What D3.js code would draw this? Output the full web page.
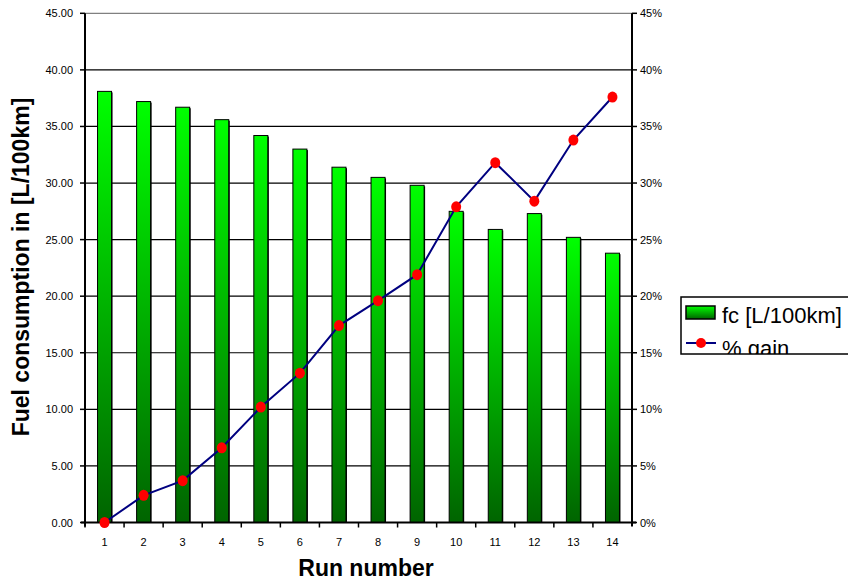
<!DOCTYPE html>
<html><head><meta charset="utf-8">
<script src="https://cdn.jsdelivr.net/npm/d3@7"></script>
<style>body{margin:0;background:#fff}svg{display:block;font-family:Arial,"Liberation Sans",sans-serif}</style>
</head><body><svg id="c" width="848" height="582"></svg>
<script>
const runs = [1,2,3,4,5,6,7,8,9,10,11,12,13,14];
const fc = [38.1,37.2,36.7,35.6,34.2,33.0,31.4,30.5,29.8,27.5,25.9,27.3,25.2,23.8];
const gain = [0.0,2.4,3.7,6.6,10.2,13.2,17.4,19.6,21.9,27.9,31.8,28.4,33.8,37.6];
const leftTicks = [0,5,10,15,20,25,30,35,40,45];
const rightTicks = [0,5,10,15,20,25,30,35,40,45];

const svg = d3.select("#c");
const L = 85, R = 632, T = 13.3, B = 522.5;
const x = d3.scaleBand().domain(runs).range([L, R]).paddingInner(0).paddingOuter(0);
const y = d3.scaleLinear().domain([0,45]).range([B, T]);
const y2 = d3.scaleLinear().domain([0,45]).range([B, T]);

const defs = svg.append("defs");
const g1 = defs.append("linearGradient").attr("id","gb").attr("x1",0).attr("y1",0).attr("x2",0).attr("y2",1);
g1.append("stop").attr("offset","0%").attr("stop-color","#00ff00");
g1.append("stop").attr("offset","100%").attr("stop-color","#006400");
defs.append("clipPath").attr("id","lc").append("rect").attr("x",681).attr("y",297).attr("width",200).attr("height",57);

// gridlines
svg.append("g").selectAll("line").data(leftTicks.filter(d=>d>0)).join("line")
  .attr("x1",L).attr("x2",R).attr("y1",d=>y(d)).attr("y2",d=>y(d))
  .attr("stroke",d=>d===45?"#808080":"#000").attr("stroke-width",1.2);

// bars
const bw = 14;
const bars = svg.append("g");
bars.selectAll("rect.s").data(runs).join("rect").attr("class","s")
  .attr("x",(d)=>x(d)+x.bandwidth()/2-bw/2+1).attr("y",(d,i)=>y(fc[i])+1)
  .attr("width",bw).attr("height",(d,i)=>B-y(fc[i])-1).attr("fill","#000");
bars.selectAll("rect.b").data(runs).join("rect").attr("class","b")
  .attr("x",(d)=>x(d)+x.bandwidth()/2-bw/2).attr("y",(d,i)=>y(fc[i]))
  .attr("width",bw).attr("height",(d,i)=>B-y(fc[i]))
  .attr("fill","url(#gb)").attr("stroke","#000").attr("stroke-width",1);

// axes
const ax = svg.append("g").attr("font-size",11).attr("fill","#000");
ax.append("line").attr("x1",L).attr("x2",L).attr("y1",T).attr("y2",B+4).attr("stroke","#000").attr("stroke-width",2);
ax.append("line").attr("x1",R).attr("x2",R).attr("y1",T).attr("y2",B+4).attr("stroke","#000").attr("stroke-width",2);
ax.append("line").attr("x1",L-4).attr("x2",R+4).attr("y1",B).attr("y2",B).attr("stroke","#000").attr("stroke-width",2);
leftTicks.forEach(t=>{
  ax.append("line").attr("x1",L-5).attr("x2",L).attr("y1",y(t)).attr("y2",y(t)).attr("stroke","#000").attr("stroke-width",1.5);
  ax.append("text").attr("x",73).attr("y",y(t)+4).attr("text-anchor","end").text(d3.format(".2f")(t));
});
rightTicks.forEach(t=>{
  ax.append("line").attr("x1",R).attr("x2",R+5).attr("y1",y2(t)).attr("y2",y2(t)).attr("stroke","#000").attr("stroke-width",1.5);
  ax.append("text").attr("x",640).attr("y",y2(t)+4).attr("text-anchor","start").text(t+"%");
});
runs.forEach((r,i)=>{
  ax.append("line").attr("x1",x(r)).attr("x2",x(r)).attr("y1",B).attr("y2",B+5).attr("stroke","#000").attr("stroke-width",1.5);
  ax.append("text").attr("x",x(r)+x.bandwidth()/2).attr("y",546).attr("text-anchor","middle").text(r);
});

// line
const line = d3.line().x((d,i)=>x(runs[i])+x.bandwidth()/2).y(d=>y2(d));
svg.append("path").datum(gain).attr("d",line).attr("fill","none").attr("stroke","#000080").attr("stroke-width",2);
svg.append("g").selectAll("ellipse").data(gain).join("ellipse")
  .attr("cx",(d,i)=>x(runs[i])+x.bandwidth()/2).attr("cy",d=>y2(d)).attr("rx",5).attr("ry",5.5).attr("fill","#ff0000");

// titles
svg.append("text").attr("transform","translate(29,267) rotate(-90)").attr("text-anchor","middle")
  .attr("font-size",23).attr("font-weight","bold").text("Fuel consumption in [L/100km]");
svg.append("text").attr("x",366).attr("y",576).attr("text-anchor","middle")
  .attr("font-size",23).attr("font-weight","bold").text("Run number");

// legend
const lg = svg.append("g");
const lc = lg.append("g").attr("clip-path","url(#lc)");
lc.append("rect").attr("x",686).attr("y",306).attr("width",29).attr("height",13).attr("fill","url(#gb)").attr("stroke","#000").attr("stroke-width",1.5);
lc.append("text").attr("x",722).attr("y",323).attr("font-size",22).text("fc [L/100km]");
lc.append("line").attr("x1",686).attr("x2",716).attr("y1",343).attr("y2",343).attr("stroke","#000080").attr("stroke-width",2);
lc.append("circle").attr("cx",701).attr("cy",343).attr("r",5).attr("fill","#ff0000");
lc.append("text").attr("x",722).attr("y",356).attr("font-size",22).text("% gain");
lg.append("rect").attr("x",681).attr("y",297).attr("width",200).attr("height",57).attr("fill","none").attr("stroke","#000").attr("stroke-width",1.5);
</script></body></html>
